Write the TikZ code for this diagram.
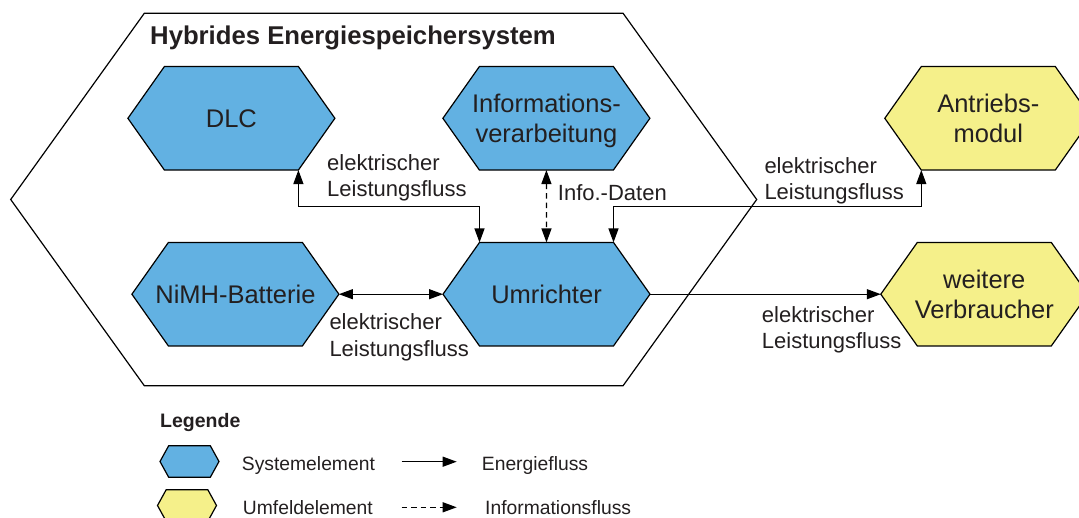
\documentclass[tikz,border=0pt]{standalone}
\usepackage{fontspec}
\setmainfont{Liberation Sans}
\usetikzlibrary{arrows.meta,backgrounds}
\definecolor{sysblue}{RGB}{98,177,226}
\definecolor{envyellow}{RGB}{245,240,138}
\definecolor{txt}{RGB}{35,31,32}
\newcommand\hexoutline[3]{%
  \begin{pgfonlayer}{background}
    \filldraw[hexline, fill=#3] ([xshift=#2]#1.north west) -- ([xshift=-#2]#1.north east) -- (#1.east)
      -- ([xshift=-#2]#1.south east) -- ([xshift=#2]#1.south west) -- (#1.west) -- cycle;
  \end{pgfonlayer}}
\def\hind{36.5pt}
\begin{document}
\begin{tikzpicture}[x=1pt,y=-1pt,
  hexbox/.style={rectangle, inner sep=0pt, outer sep=0pt, minimum width=207pt, minimum height=103.5pt,
    align=center, text depth=0pt, text=txt, font=\fontsize{25.5}{30}\selectfont},
  sysbox/.style={rectangle, inner sep=0pt, outer sep=0pt, minimum width=746pt, minimum height=372.4pt},
  minibox/.style={rectangle, inner sep=0pt, outer sep=0pt, minimum width=59pt, minimum height=31.6pt},
  lbl/.style={anchor=base west, align=left, text=txt, inner sep=0pt, font=\fontsize{22}{26.7}\selectfont},
  legtext/.style={anchor=base west, inner sep=0pt, text=txt, font=\fontsize{19.3}{23}\selectfont},
  hexline/.style={draw=black, line width=1.2pt, line join=miter},
  ftip/.tip={Triangle[length=14pt,width=10pt]},
  energyone/.style={line width=1.2pt, -ftip},
  energytwo/.style={line width=1.2pt, ftip-ftip},
  infoone/.style={energyone, dash pattern=on 5.5pt off 4pt},
  infotwo/.style={energytwo, dash pattern=on 5.5pt off 4pt}
]
\useasboundingbox (0,0) rectangle (1079,518);

% system boundary
\node[sysbox] (sys) at (383.7,199.5) {};
\hexoutline{sys}{133.6pt}{white}
\node[anchor=base west, inner sep=0pt, text=txt, font=\fontsize{25.7}{30}\selectfont\bfseries] (title) at (150,44.3) {Hybrides Energiespeichersystem};

% elements
\node[hexbox] (dlc) at (231.4,118.3) {DLC};
\hexoutline{dlc}{\hind}{sysblue}
\node[hexbox] (info) at (546.4,118.3) {Informations-\\verarbeitung};
\hexoutline{info}{\hind}{sysblue}
\node[hexbox] (nimh) at (235.4,294.2) {NiMH-Batterie};
\hexoutline{nimh}{\hind}{sysblue}
\node[hexbox] (umr) at (546.5,294.2) {Umrichter};
\hexoutline{umr}{\hind}{sysblue}
\node[hexbox] (antr) at (988.3,118.3) {Antriebs-\\modul};
\hexoutline{antr}{\hind}{envyellow}
\node[hexbox] (weit) at (984.3,294.2) {weitere\\Verbraucher};
\hexoutline{weit}{\hind}{envyellow}

% connectors
\draw[energytwo] ([xshift=-\hind]dlc.south east) -- ++(0,36.5) -| ([xshift=\hind]umr.north west);
\draw[infotwo] (info.south) -- (umr.north);
\draw[energytwo] (nimh.east) -- (umr.west);
\draw[energytwo] ([xshift=-\hind]umr.north east) -- ++(0,-35.6) -| ([xshift=\hind]antr.south west);
\draw[energyone] (umr.east) -- (weit.west);

% connector labels (anchor = baseline of last line)
\node[lbl] (l1) at (327,197) {elektrischer\\Leistungsfluss};
\node[lbl] (l2) at (329.3,356.7) {elektrischer\\Leistungsfluss};
\node[lbl] (l3) at (764.3,199.8) {elektrischer\\Leistungsfluss};
\node[lbl] (l4) at (761.7,349) {elektrischer\\Leistungsfluss};
\node[lbl] (l5) at (557.7,201) {Info.-Daten};

% legend
\node[anchor=base west, inner sep=0pt, text=txt, font=\fontsize{19.5}{23}\selectfont\bfseries] (leg) at (160,428) {Legende};
\node[minibox] (lsys) at (189.5,461.5) {};
\hexoutline{lsys}{8.7pt}{sysblue}
\node[minibox] (lenv) at (187,505.5) {};
\hexoutline{lenv}{8.7pt}{envyellow}
\node[legtext] (tsys) at (241.7,470) {Systemelement};
\node[legtext] (tenv) at (242.7,514.3) {Umfeldelement};
\coordinate (ea) at (401.7,461.7);
\coordinate (eb) at (456.7,461.7);
\draw[energyone] (ea) -- (eb);
\coordinate (ia) at (401.7,507.3);
\coordinate (ib) at (456.7,507.3);
\draw[infoone] (ia) -- (ib);
\node[legtext] (tef) at (481.7,470) {Energiefluss};
\node[legtext] (tif) at (485,514) {Informationsfluss};
\end{tikzpicture}
\end{document}
